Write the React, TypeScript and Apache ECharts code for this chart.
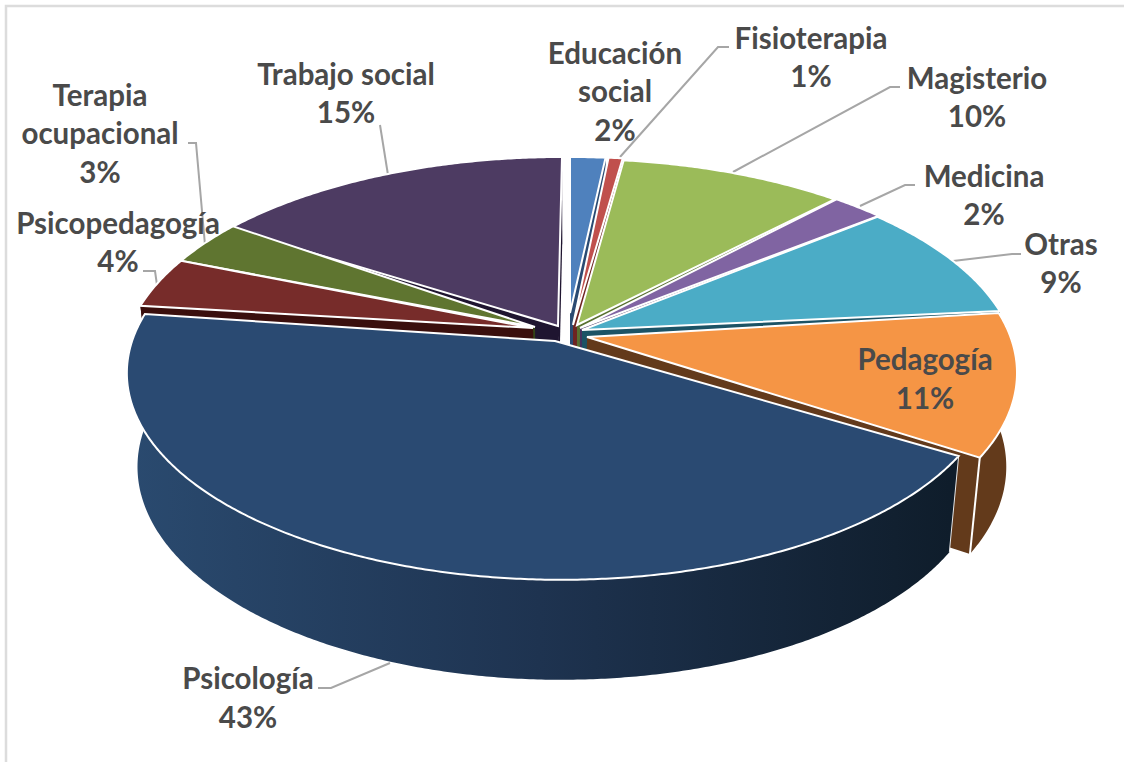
import React, { useEffect, useRef } from "react";
import * as echarts from "echarts";

const names = ["Educación social", "Fisioterapia", "Magisterio", "Medicina", "Otras", "Pedagogía", "Psicología", "Psicopedagogía", "Terapia ocupacional", "Trabajo social"];
const labelNames = ["Educación\nsocial", "Fisioterapia", "Magisterio", "Medicina", "Otras", "Pedagogía", "Psicología", "Psicopedagogía", "Terapia\nocupacional", "Trabajo social"];
const shares = [1.5, 0.6, 9.5, 2.2, 9.1, 10.9, 43.2, 3.9, 3.49, 15.49];
const percentLabels = ["2%", "1%", "10%", "2%", "9%", "11%", "43%", "4%", "3%", "15%"];
const topColors = ["#4F81BD", "#C0504D", "#9BBB59", "#8064A2", "#4BACC6", "#F59545", "#2A4A72", "#772C2A", "#5F7530", "#4D3B62"];
const sideColors = ["#2a4a72", "#6e2422", "#587030", "#47315f", "#1c5365", "#633a1b", "#1e3350", "#3a0f0d", "#344218", "#1f1530"];

// layout of the drawing, in pixels
const drawOrder = [9, 8, 7, 0, 1, 2, 3, 4, 5, 6];
const rimShift = [[0, 0], [3, 0], [4, 2], [6, 2], [5, 3], [4, 5], [-9, 5], [-5, -2], [-5, -2], [-8, 0]];
const rimScale = [1, 1, 1, 1, 1, 1, 0.98, 1, 1, 1];
const tipShift = [[0, -19], [3, -7], [7, -7], [10, -4], [12, -2], [17, 5], [-15, 9], [-37, -4], [-35, -5], [-12, -6]];
const CX = 570, CY = 368, RX = 443, RY = 211, K = 0.16;
const APEX = [570, 332];
const SHRINK = 0.976, DEPTH = 100, BOTTOM = 580, TAPER = 0.03;

const labelCenters = [[615, 90.5], [811, 56.5], [977, 96.5], [984, 194.5], [1061, 262.5], [925, 378], [248, 697], [118, 241.5], [100, 132.5], [346, 92.5]];
const leaders = [
  [[620, 157], [718, 47], [729, 47]],
  [[733, 172], [890, 87], [900, 87]],
  [[860, 206], [905, 185], [915, 185]],
  [[953, 261], [1012, 254], [1021, 254]],
  [[390, 663], [331, 688], [318, 688]],
  [[157, 285], [155, 271], [143, 271]],
  [[205, 245], [196, 143], [188, 143]],
  [[388, 175], [380, 125]],
];

const total = shares.reduce((a, b) => a + b, 0);
const starts: number[] = [];
shares.reduce((acc, v, i) => { starts[i] = acc; return acc + v; }, 0);

function rimPoint(theta: number, sh: number[], sc: number) {
  const X = Math.sin(theta), Y = -Math.cos(theta);
  const d = 1 - K * Y;
  return [CX + sc * RX * (X * Math.sqrt(1 - K * K)) / d + sh[0], CY + sc * RY * ((Y - K) / d) + sh[1]];
}
function lower(p: number[]) {
  return [CX + (p[0] - CX) * SHRINK, p[1] + DEPTH - (BOTTOM - p[1]) * TAPER];
}

function renderSlice(params: any, api: any) {
  const i = api.value(0);
  const a0 = (starts[i] / total) * Math.PI * 2;
  const a1 = ((starts[i] + shares[i]) / total) * Math.PI * 2;
  const steps = Math.max(4, Math.ceil((a1 - a0) / 0.008));
  const rim: number[][] = [];
  for (let s = 0; s <= steps; s++) rim.push(rimPoint(a0 + ((a1 - a0) * s) / steps, rimShift[i], rimScale[i]));
  const tip = [APEX[0] + tipShift[i][0], APEX[1] + tipShift[i][1]];
  const low = rim.map(lower);
  const first = rim[0], last = rim[rim.length - 1];
  const fill = i === 6
    ? new echarts.graphic.LinearGradient(130, 0, 950, 0, [
        { offset: 0, color: "#2a4a6f" },
        { offset: 0.5, color: "#1e3350" },
        { offset: 1, color: "#0f1d2b" },
      ], true)
    : sideColors[i];
  const children: any[] = [
    { type: "polygon", shape: { points: [tip, first, lower(first), lower(tip)] }, style: { fill: sideColors[i] } },
    { type: "polygon", shape: { points: [tip, last, lower(last), lower(tip)] }, style: { fill: sideColors[i] } },
    { type: "polygon", shape: { points: rim.concat(low.slice().reverse()) }, style: { fill } },
  ];
  if (i === 5) {
    const e = lower(last);
    children.push({ type: "line", shape: { x1: last[0], y1: last[1], x2: e[0], y2: e[1] }, style: { stroke: "#fff", lineWidth: 2 } });
  }
  if (i === 6) {
    const e = lower(first);
    children.push({ type: "line", shape: { x1: first[0], y1: first[1], x2: e[0], y2: e[1] }, style: { stroke: "#e8e8e8", lineWidth: 1 } });
  }
  children.push({
    type: "polygon",
    shape: { points: [tip].concat(rim) },
    style: { fill: topColors[i], stroke: "#fff", lineWidth: 2, lineJoin: "miter" },
  });
  return { type: "group", children };
}

export default function App() {
  const ref = useRef<HTMLDivElement>(null);
  useEffect(() => {
    const chart = echarts.init(ref.current!, null, { renderer: "svg" });
    const graphics: any[] = [
      { type: "polyline", z: 1, shape: { points: [[6, 762], [6, 6], [1124, 6]] }, style: { stroke: "#dcdcdc", lineWidth: 2.5, fill: "none" } },
    ];
    leaders.forEach((pts) => {
      graphics.push({ type: "polyline", z: 1, shape: { points: pts }, style: { stroke: "#a6a6a6", lineWidth: 2, fill: "none" } });
    });
    labelNames.forEach((n, i) => {
      graphics.push({
        type: "text", z: 20, x: labelCenters[i][0], y: labelCenters[i][1],
        style: {
          text: n + "\n" + percentLabels[i], fill: "#4a4a4a",
          font: "bold 29.5px Lato", lineHeight: 38.5, align: "center", verticalAlign: "middle",
        },
      });
    });
    chart.setOption({
      animation: false,
      backgroundColor: "#fff",
      graphic: { elements: graphics },
      series: [{
        type: "custom", coordinateSystem: "none", silent: true, renderItem: renderSlice,
        data: drawOrder.map((i) => ({ name: names[i], value: [i, shares[i]] })),
        encode: { value: [0, 1] }, clip: false,
      }],
    });
    return () => chart.dispose();
  }, []);
  return <div ref={ref} style={{ position: "fixed", left: 0, top: 0, width: 1124, height: 762 }} />;
}
